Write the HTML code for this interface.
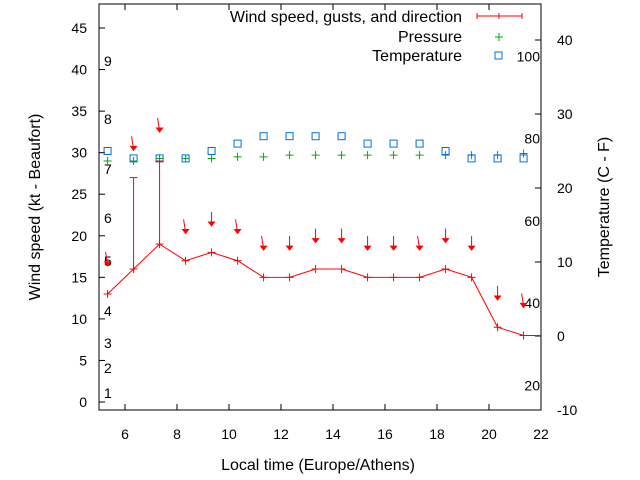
<!DOCTYPE html>
<html><head><meta charset="utf-8"><style>
body{margin:0;background:#fff}
svg{display:block;font-family:"Liberation Sans",sans-serif;font-size:14px}
.big{font-size:16px}
</style></head><body>
<svg id="chart" width="640" height="480" viewBox="0 0 640 480" xmlns="http://www.w3.org/2000/svg">
<defs><clipPath id="pc"><rect x="99" y="4" width="442" height="406"/></clipPath></defs>
<g id="axes"></g>
<g id="plot" clip-path="url(#pc)"></g>
<g id="legend" class="big">
  <text x="462" y="22" text-anchor="end">Wind speed, gusts, and direction</text>
  <path d="M477 16H522M477 13V19M522 13V19M499 13V19" stroke="#f00" fill="none"/>
  <text x="462" y="42" text-anchor="end">Pressure</text>
  <path d="M495 37H503M499 33V41" stroke="#0a0" fill="none"/>
  <text x="462" y="61" text-anchor="end">Temperature</text>
  <rect x="495" y="52" width="7" height="7" stroke="#0070e0" fill="none"/>
</g>
<text class="big" transform="translate(40,207) rotate(-90)" text-anchor="middle">Wind speed (kt - Beaufort)</text>
<text class="big" transform="translate(609,207) rotate(-90)" text-anchor="middle">Temperature (C - F)</text>
<text class="big" x="318" y="470" text-anchor="middle">Local time (Europe/Athens)</text>
</svg>
<script>
const times=[5.33,6.33,7.33,8.33,9.33,10.33,11.33,12.33,13.33,14.33,15.33,16.33,17.33,18.33,19.33,20.33,21.33,22.33];
const wind=[13,16,19,17,18,17,15,15,16,16,15,15,15,16,15,9,8,8];
const gusts=[null,27,29,null,null,null,null,null,null,null,null,null,null,null,null,null,null,null];
const arrowLevel=[16.5,30.4,32.6,20.4,21.3,20.4,18.4,18.4,19.3,19.3,18.4,18.4,18.4,19.3,18.4,12.4,11.5];
const arrowTilt=[1,1,1,1,0,1,1,0,0,0,0,0,1,0,0,0,1];
const pressure=[29.0,29.0,29.3,29.3,29.3,29.5,29.5,29.7,29.7,29.7,29.7,29.7,29.7,29.7,29.7,29.7,29.9];
const temperature=[25,24,24,24,25,26,27,27,27,27,26,26,26,25,24,24,24];
const xTicks=[6,8,10,12,14,16,18,20,22];
const yTicks=[0,5,10,15,20,25,30,35,40,45];
const y2Ticks=[-10,0,10,20,30,40];
const beaufort=[[1,393],[2,368],[3,343],[4,311],[5,261],[6,218],[7,169],[8,119],[9,61]];
const fahr=[100,80,60,40,20];

const X=h=>125+(h-6)*26;
const Y=v=>402-v*8.311;
const Y2=t=>336-t*7.4;
const NS="http://www.w3.org/2000/svg";
function mk(tag,attrs,parent,txt){const e=document.createElementNS(NS,tag);for(const k in attrs)e.setAttribute(k,attrs[k]);if(txt!=null)e.textContent=txt;parent.appendChild(e);return e;}
const axes=document.getElementById('axes'),plot=document.getElementById('plot');

let fr=mk('rect',{x:99,y:4,width:442,height:406,fill:'none',stroke:'#000'},axes);


xTicks.forEach(h=>{
  let t=mk('path',{d:`M${X(h)} 410v-6M${X(h)} 4v6`,stroke:'#000'},axes);
  
  
  let l=mk('text',{x:X(h),y:439,'text-anchor':'middle'},axes,h);
  
  
});
yTicks.forEach(v=>{
  let t=mk('path',{d:`M99 ${Y(v)}h6`,stroke:'#000'},axes);
  
  
  let l=mk('text',{x:87,y:Y(v)+5,'text-anchor':'end'},axes,v);
  
  
});
y2Ticks.forEach(v=>{
  let t=mk('path',{d:`M541 ${Y2(v)}h-6`,stroke:'#000'},axes);
  
  
  let l=mk('text',{x:557,y:Y2(v)+5},axes,v);
  
  
});
beaufort.forEach(b=>{
  let l=mk('text',{x:104,y:b[1]+5},axes,b[0]);
  
  
});
fahr.forEach(f=>{
  let l=mk('text',{x:540,y:Y2((f-32)*5/9)+5,'text-anchor':'end'},axes,f);
  
  
});

pressure.forEach((p,i)=>{
  let e=mk('path',{d:`M${X(times[i])-4} ${Y(p)}h8M${X(times[i])} ${Y(p)-4}v8`,stroke:'#0a0',fill:'none'},plot);
  
  
});
temperature.forEach((t,i)=>{
  let e=mk('rect',{x:X(times[i])-3.5,y:Y2(t)-3.5,width:7,height:7,stroke:'#0070e0',fill:'none'},plot);
  
  
});
let ln=mk('polyline',{points:wind.map((w,i)=>X(times[i])+','+Y(w)).join(' '),stroke:'#f00',fill:'none'},plot);


wind.forEach((w,i)=>{
  let e=mk('path',{d:`M${X(times[i])-4} ${Y(w)}h8M${X(times[i])} ${Y(w)-4}v8`,stroke:'#f00',fill:'none'},plot);
  
  
  if(gusts[i]!=null){
    let g=mk('path',{d:`M${X(times[i])} ${Y(w)}V${Y(gusts[i])}M${X(times[i])-4} ${Y(gusts[i])}h8`,stroke:'#f00',fill:'none'},plot);
    
    
  }
});
arrowLevel.forEach((a,i)=>{
  const x=X(times[i]),y=Y(a),dx=arrowTilt[i]?-2:0;
  let e=mk('g',{},plot);
  
  
  mk('path',{d:`M${x+dx} ${y-13}L${x} ${y}`,stroke:'#f00',fill:'none'},e);
  mk('path',{d:`M${x-3} ${y-3}L${x} ${y+1}L${x+3} ${y-3}Z`,fill:'#f00',stroke:'#f00'},e);
});
</script>
</body></html>
